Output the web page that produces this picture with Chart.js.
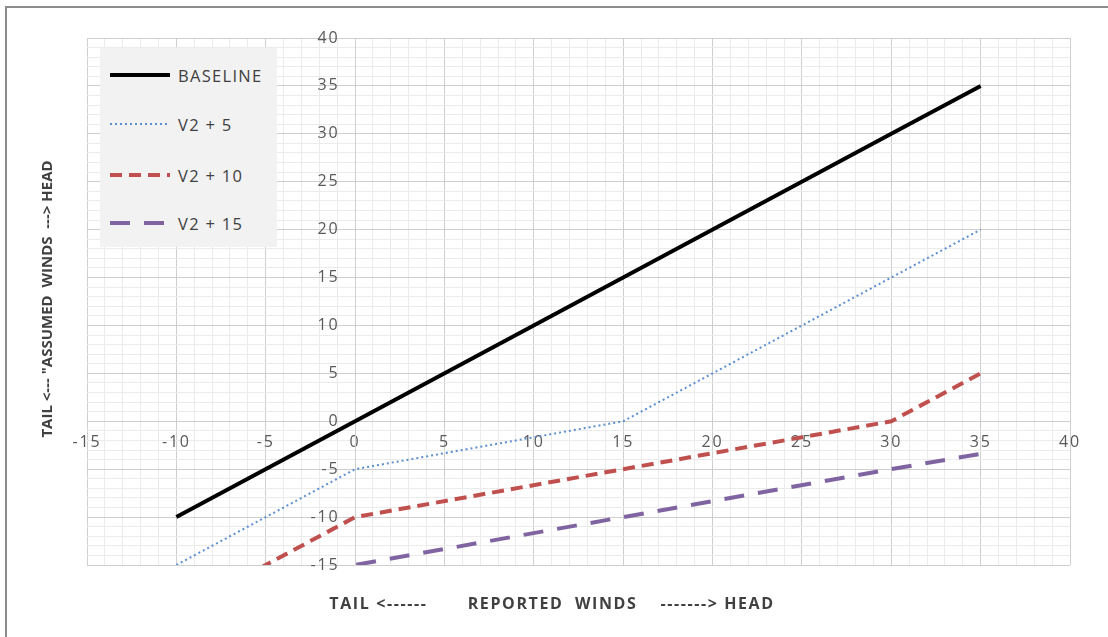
<!DOCTYPE html>
<html lang="en">
<head>
  <meta charset="UTF-8">
  <title>Assumed vs Reported Winds</title>
  <script src="https://cdn.jsdelivr.net/npm/chart.js"></script>
  <style>
    body {
      margin: 0;
      background: #fff;
      font-family: "Open Sans", sans-serif;
    }
    #wrap {
      position: relative;
      width: 1108px;
      height: 637px;
      overflow: hidden;
    }
    #frame {
      position: absolute;
      left: 5px;
      top: 6px;
      right: 0;
      bottom: 0;
      border-left: 2px solid #8c8c8c;
      border-top: 2px solid #8c8c8c;
      pointer-events: none;
    }
    #windChart {
      position: absolute;
      left: 0;
      top: 0;
    }
    #legend {
      position: absolute;
      left: 100px;
      top: 48px;
      width: 177px;
      height: 199px;
      background: #f2f2f2;
    }
    .item {
      position: absolute;
      left: 10px;
      height: 20px;
      display: flex;
      align-items: center;
      font-size: 16.5px;
      letter-spacing: 1.3px;
      color: #404040;
      white-space: nowrap;
    }
    .item svg { margin-right: 8px; }
  </style>
</head>
<body>

  <div id="wrap">
    <canvas id="windChart" width="1108" height="637"></canvas>
    <div id="legend"></div>
    <div id="frame"></div>
  </div>

  <script>
    // reported winds (x) and assumed winds (y) for each setting
    const reportedWinds = [-10, 0, 15, 30, 35];
    const baseline = [-10, 0, 15, 30, 35];
    const v2plus5 = [-15, -5, 0, 15, 20];
    const v2plus10 = [-20, -10, -5, 0, 5];
    const v2plus15 = [-25, -15, -10, -5, -3.4];

    const seriesNames = ["BASELINE", "V2 + 5", "V2 + 10", "V2 + 15"];
    const seriesValues = [baseline, v2plus5, v2plus10, v2plus15];
    const seriesColors = ["#000000", "#5b8fd0", "#c0504d", "#8064a2"];
    const seriesWidths = [4, 2, 4, 4];
    const seriesDashes = [[], [2, 3], [12, 7], [20, 14]];

    const xTitle = "TAIL <------       REPORTED  WINDS    -------> HEAD";
    const yTitle = 'TAIL <--- "ASSUMED  WINDS  ---> HEAD';

    const axisMin = -15, axisMax = 40;

    function points(ys) {
      return reportedWinds.map((x, i) => ({ x: x, y: ys[i] }));
    }

    const datasets = seriesNames.map((name, i) => ({
      label: name,
      data: points(seriesValues[i]),
      showLine: true,
      borderColor: seriesColors[i],
      backgroundColor: seriesColors[i],
      borderWidth: seriesWidths[i],
      borderDash: seriesDashes[i],
      pointRadius: 0,
      tension: 0
    }));

    function gridColor(ctx) {
      return ctx.tick && ctx.tick.value % 5 === 0 ? "#cfcfcf" : "#ebebeb";
    }
    function xLabel(v) {
      return v % 5 === 0 ? String(v) : "";
    }
    // y labels sit left of the x = 0 line, the trailing spaces give the gap
    function yLabel(v) {
      return v % 5 === 0 ? v + "\u2002 " : "";
    }

    // wide tick text like the original, then the two axis titles
    const axisTitles = {
      id: "axisTitles",
      beforeDraw(chart) { chart.ctx.letterSpacing = "1.8px"; },
      afterDraw(chart) {
        const ctx = chart.ctx;
        ctx.save();
        ctx.fillStyle = "#404040";
        ctx.textAlign = "center";
        ctx.textBaseline = "middle";

        ctx.letterSpacing = "1.6px";
        ctx.font = "bold 16px 'Open Sans'";
        ctx.fillText(xTitle, 552, 604);

        ctx.letterSpacing = "0px";
        ctx.font = "bold 15px 'Open Sans'";
        ctx.translate(48, 299);
        ctx.rotate(-Math.PI / 2);
        ctx.fillText(yTitle, 0, 0);
        ctx.restore();
        ctx.letterSpacing = "0px";
      }
    };

    const tickFont = { family: "Open Sans", size: 16 };

    const chart = new Chart(document.getElementById("windChart"), {
      type: "scatter",
      data: { datasets: datasets },
      plugins: [axisTitles],
      options: {
        responsive: false,
        animation: false,
        layout: { padding: { left: 87, right: 38, top: 38, bottom: 72 } },
        scales: {
          x: {
            type: "linear",
            min: axisMin,
            max: axisMax,
            position: { y: 0 },
            ticks: {
              stepSize: 1,
              autoSkip: false,
              maxRotation: 0,
              maxTicksLimit: 100,
              padding: 12,
              color: "#595959",
              font: tickFont,
              callback: xLabel
            },
            grid: { color: gridColor, drawTicks: false },
            border: { color: "#cfcfcf" }
          },
          y: {
            type: "linear",
            min: axisMin,
            max: axisMax,
            position: { x: 0 },
            ticks: {
              stepSize: 1,
              autoSkip: false,
              maxTicksLimit: 100,
              color: "#595959",
              font: tickFont,
              callback: yLabel
            },
            grid: { color: gridColor, drawTicks: false },
            border: { color: "#cfcfcf" }
          }
        },
        plugins: {
          legend: { display: false },
          tooltip: { enabled: false }
        }
      }
    });

    // legend drawn as html over the plot
    const legendBox = document.getElementById("legend");
    const itemTops = [17, 66, 117, 165];
    datasets.forEach((ds, i) => {
      const item = document.createElement("div");
      item.className = "item";
      item.style.top = itemTops[i] + "px";
      const dash = ds.borderDash.length ? ds.borderDash.join(",") : "none";
      item.innerHTML =
        '<svg width="60" height="8"><line x1="0" y1="4" x2="60" y2="4" stroke="' + ds.borderColor +
        '" stroke-width="' + ds.borderWidth + '" stroke-dasharray="' + dash + '"/></svg>' +
        '<span>' + ds.label + '</span>';
      legendBox.appendChild(item);
    });
  </script>
</body>
</html>
